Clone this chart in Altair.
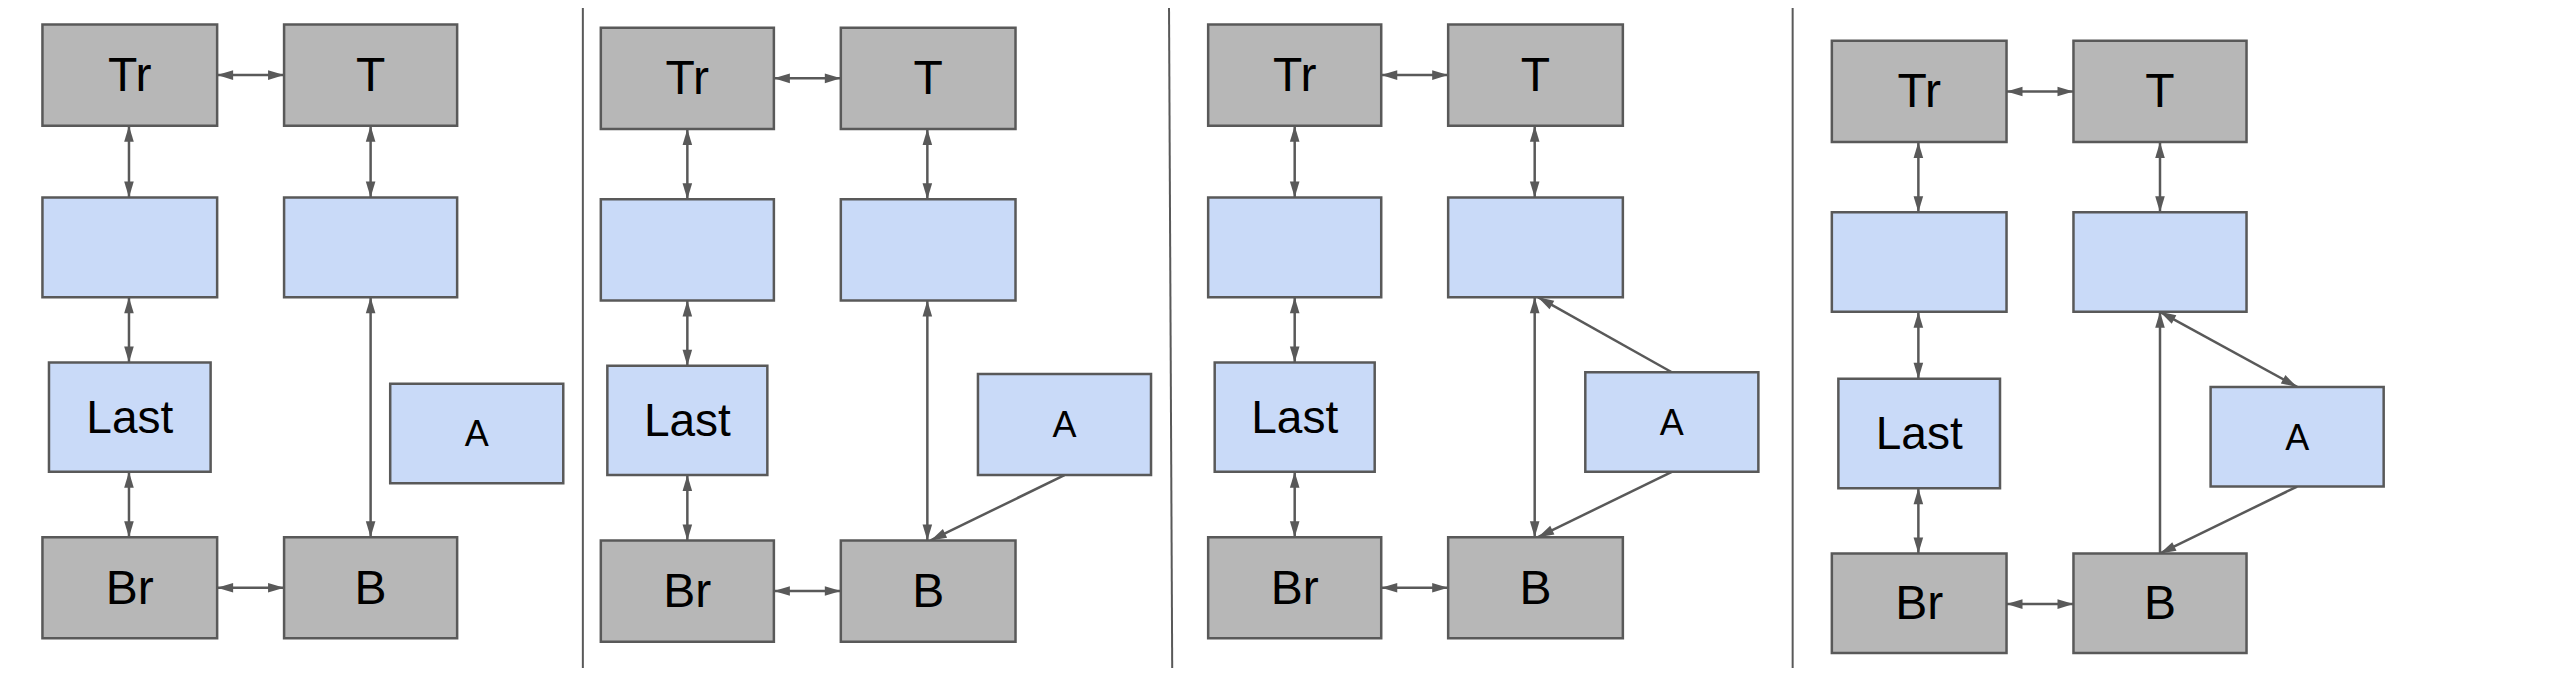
import math
import altair as alt
import pandas as pd

K = 2560 / 1568  # reference was read at 1568 px wide

GREY = "#b7b7b7"
BLUE = "#c9daf8"
INK = "#595959"

# boxes: x1, x2, y1, y2, fill, label, font size
box_x1 = [26, 174, 26, 174, 30, 239, 26, 174,
          368, 515, 368, 515, 372, 599, 368, 515,
          740, 887, 740, 887, 744, 971, 740, 887,
          1122, 1270, 1122, 1270, 1126, 1354, 1122, 1270]
box_x2 = [133, 280, 133, 280, 129, 345, 133, 280,
          474, 622, 474, 622, 470, 705, 474, 622,
          846, 994, 846, 994, 842, 1077, 846, 994,
          1229, 1376, 1229, 1376, 1225, 1460, 1229, 1376]
box_y1 = [15, 15, 121, 121, 222, 235, 329, 329,
          17, 17, 122, 122, 224, 229, 331, 331,
          15, 15, 121, 121, 222, 228, 329, 329,
          25, 25, 130, 130, 232, 237, 339, 339]
box_y2 = [77, 77, 182, 182, 289, 296, 391, 391,
          79, 79, 184, 184, 291, 291, 393, 393,
          77, 77, 182, 182, 289, 289, 391, 391,
          87, 87, 191, 191, 299, 298, 400, 400]
labels = ["Tr", "T", "", "", "Last", "A", "Br", "B"] * 4
fills = [GREY, GREY, BLUE, BLUE, BLUE, BLUE, GREY, GREY] * 4
sizes = [48, 48, 0, 0, 46, 36, 48, 48] * 4

# arrows: start, end, head at start, head at end
arr_x1 = [133, 79, 79, 79, 227, 227, 133,
          474, 421, 421, 421, 568, 568, 474, 652,
          846, 793, 793, 793, 940, 940, 846, 1024, 1024,
          1229, 1175, 1175, 1175, 1323, 1323, 1229, 1407, 1407]
arr_y1 = [46, 77, 182, 289, 77, 182, 360,
          48, 79, 184, 291, 79, 184, 362, 291,
          46, 77, 182, 289, 77, 182, 360, 228, 289,
          56, 87, 191, 299, 87, 339, 370, 237, 298]
arr_x2 = [174, 79, 79, 79, 227, 227, 174,
          515, 421, 421, 421, 568, 568, 515, 570,
          887, 793, 793, 793, 940, 940, 887, 942, 942,
          1270, 1175, 1175, 1175, 1323, 1323, 1270, 1323, 1323]
arr_y2 = [46, 121, 222, 329, 121, 329, 360,
          48, 122, 224, 331, 122, 331, 362, 331,
          46, 121, 222, 329, 121, 329, 360, 182, 329,
          56, 130, 232, 339, 130, 191, 370, 191, 339]
head_a = [1, 1, 1, 1, 1, 1, 1,
          1, 1, 1, 1, 1, 1, 1, 0,
          1, 1, 1, 1, 1, 1, 1, 0, 0,
          1, 1, 1, 1, 1, 0, 1, 1, 0]
head_b = [1] * 33

# panel dividers
div_x1 = [357, 716, 1098]
div_x2 = [357, 718, 1098]

boxes = pd.DataFrame({
    "x1": [v * K for v in box_x1], "x2": [v * K for v in box_x2],
    "y1": [v * K for v in box_y1], "y2": [v * K for v in box_y2],
    "fill": fills, "label": labels, "size": sizes,
})
boxes["cx"] = (boxes.x1 + boxes.x2) / 2
boxes["cy"] = (boxes.y1 + boxes.y2) / 2

HALF = 8
lines, heads = [], []
for i in range(len(arr_x1)):
    x1, y1, x2, y2 = arr_x1[i] * K, arr_y1[i] * K, arr_x2[i] * K, arr_y2[i] * K
    lines.append({"id": i, "x": x1, "y": y1, "o": 0})
    lines.append({"id": i, "x": x2, "y": y2, "o": 1})
    L = math.hypot(x2 - x1, y2 - y1)
    ux, uy = (x2 - x1) / L, (y2 - y1) / L
    if head_b[i]:
        heads.append({"x": x2 - ux * HALF, "y": y2 - uy * HALF,
                      "a": math.degrees(math.atan2(ux, -uy)) % 360})
    if head_a[i]:
        heads.append({"x": x1 + ux * HALF, "y": y1 + uy * HALF,
                      "a": math.degrees(math.atan2(-ux, uy)) % 360})
lines = pd.DataFrame(lines)
heads = pd.DataFrame(heads)

dividers = pd.DataFrame({"x": [v * K for v in div_x1], "x2": [v * K for v in div_x2],
                         "y": [0] * 3, "y2": [676] * 3})

W, H = 2544, 660
xs = alt.Scale(domain=[8, 8 + W], nice=False, zero=False)
ys = alt.Scale(domain=[8 + H, 8], nice=False, zero=False)
ax = None

rects = alt.Chart(boxes).mark_rect(stroke=INK, strokeWidth=2.5).encode(
    x=alt.X("x1:Q", scale=xs, axis=ax), x2="x2", y=alt.Y("y1:Q", scale=ys, axis=ax), y2="y2",
    fill=alt.Fill("fill:N", scale=None),
)
texts = alt.Chart(boxes[boxes.label != ""]).mark_text(
    baseline="middle", align="center", dy=2, font="Liberation Sans", color="black",
).encode(
    x=alt.X("cx:Q", scale=xs, axis=ax), y=alt.Y("cy:Q", scale=ys, axis=ax),
    text="label:N", size=alt.Size("size:Q", scale=None),
)
arrow_lines = alt.Chart(lines).mark_line(color=INK, strokeWidth=2.5).encode(
    x=alt.X("x:Q", scale=xs, axis=ax), y=alt.Y("y:Q", scale=ys, axis=ax),
    detail="id:N", order="o:Q",
)
arrow_heads = alt.Chart(heads).mark_point(
    shape="M0,-1L0.6,1L-0.6,1Z", filled=True, color=INK, opacity=1, size=256,
).encode(
    x=alt.X("x:Q", scale=xs, axis=ax), y=alt.Y("y:Q", scale=ys, axis=ax),
    angle=alt.Angle("a:Q", scale=None),
)
divs = alt.Chart(dividers).mark_rule(color=INK, strokeWidth=2).encode(
    x=alt.X("x:Q", scale=xs, axis=ax), x2="x2", y=alt.Y("y:Q", scale=ys, axis=ax), y2="y2",
)
black_bar = alt.Chart(pd.DataFrame({"x": [0], "x2": [7]})).mark_rect(color="black").encode(
    x=alt.X("x:Q", scale=xs, axis=ax), x2="x2", y=alt.value(0), y2=alt.value(H),
)

chart = alt.layer(black_bar, divs, arrow_lines, arrow_heads, rects, texts).properties(
    width=W, height=H, padding=0, autosize="none",
).configure_view(stroke=None, clip=False)

chart.save("out.html", embed_options={"renderer": "svg", "actions": False})
